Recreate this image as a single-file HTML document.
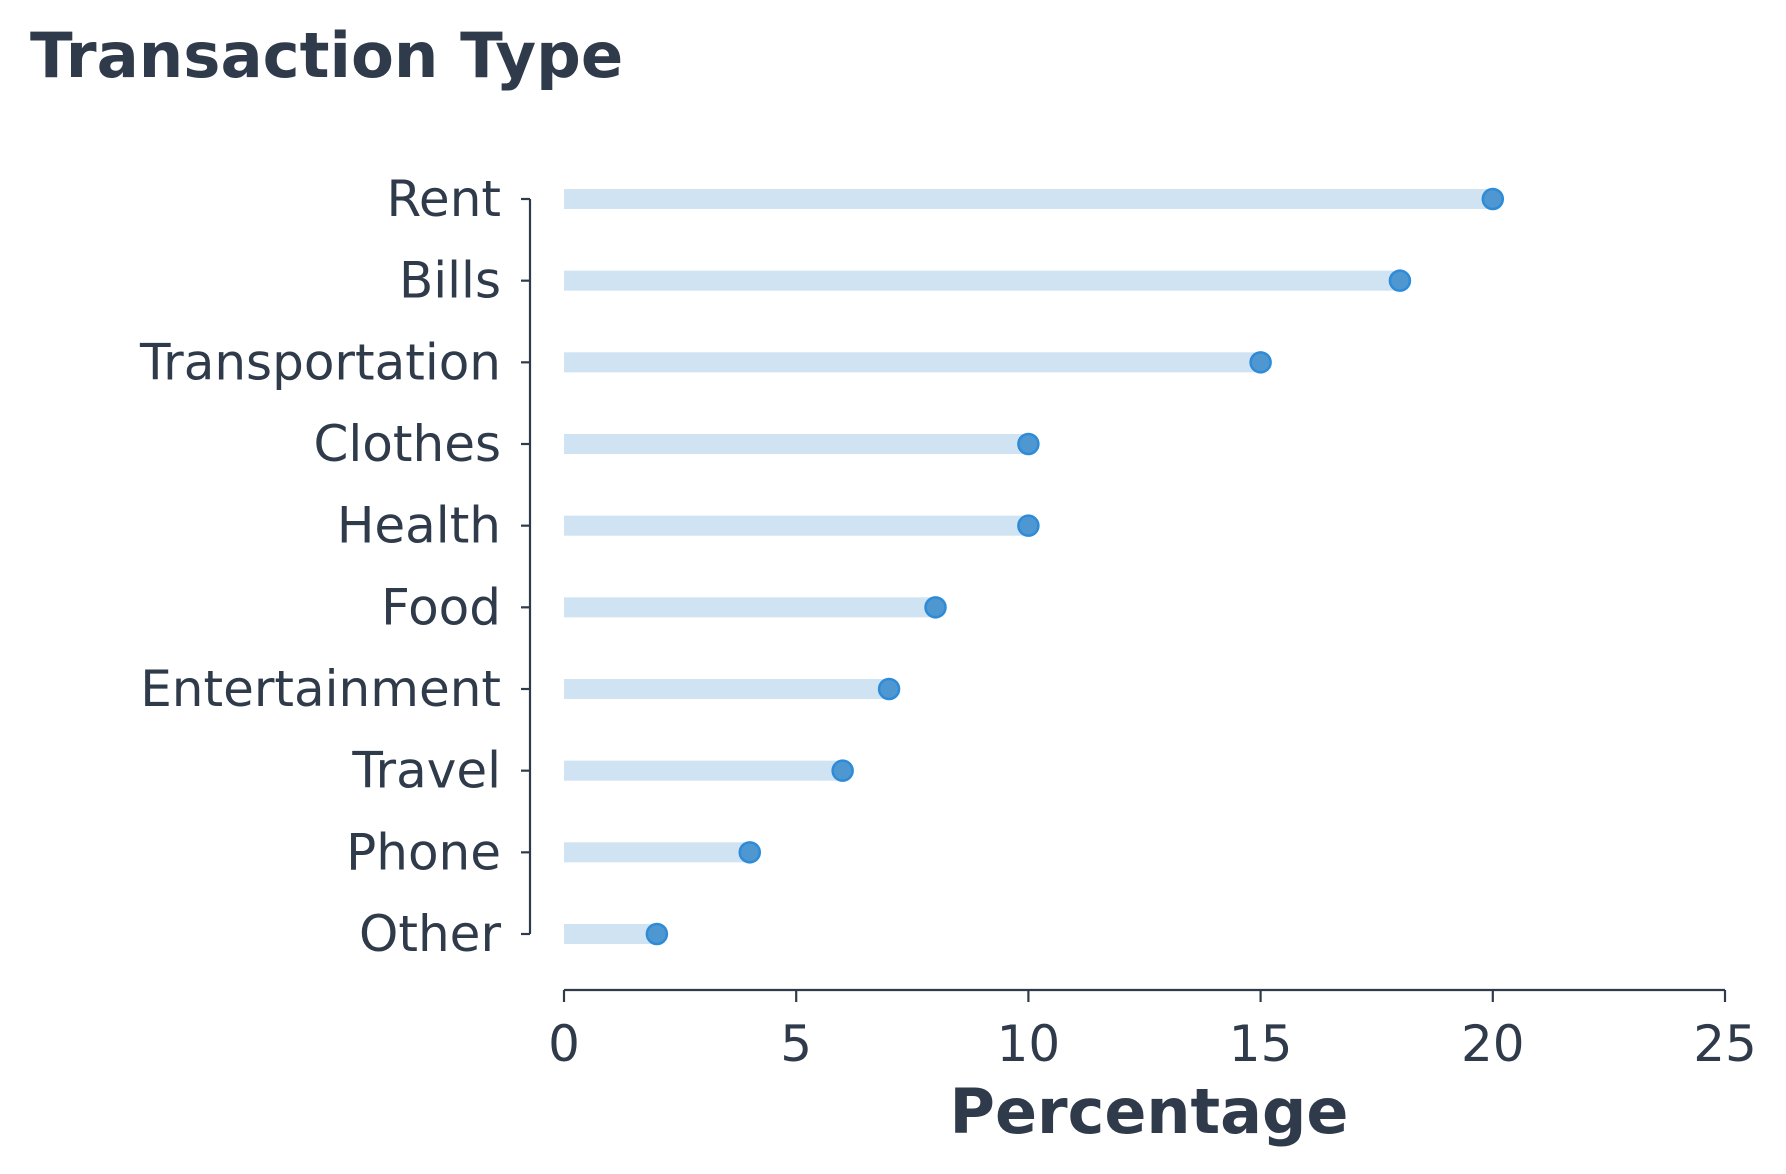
<!DOCTYPE html>
<html><head><meta charset="utf-8"><style>
body{margin:0;background:#fff}
svg{display:block;font-family:"DejaVu Sans","Liberation Sans",sans-serif}
</style></head><body>
<svg id="chart" width="1786" height="1174" viewBox="0 0 1786 1174">
<text x="30" y="77" font-size="62.5" font-weight="bold" fill="#2f3b4a">Transaction Type</text>
<g id="plot"></g>
</svg>
<script>
const categories=["Rent","Bills","Transportation","Clothes","Health","Food","Entertainment","Travel","Phone","Other"];
const values=[20,18,15,10,10,8,7,6,4,2];
const xTicks=[0,5,10,15,20,25];
const NS="http://www.w3.org/2000/svg";
const g=document.getElementById('plot');
const x0=564,x1=1725,xmax=25;
const yTop=199,yBot=934;
const xs=v=>x0+(v/xmax)*(x1-x0);
const ys=i=>yTop+i*(yBot-yTop)/(categories.length-1);
const C="#2f3b4a";
function el(t,a){const e=document.createElementNS(NS,t);for(const k in a)e.setAttribute(k,a[k]);g.appendChild(e);return e;}
let e=el('line',{x1:530,x2:530,y1:yTop,y2:yBot,stroke:C,'stroke-width':2.2});


e=el('line',{x1:x0,x2:x1,y1:990,y2:990,stroke:C,'stroke-width':2.2});


categories.forEach((c,i)=>{
  const y=ys(i);
  let t=el('line',{x1:521,x2:530,y1:y,y2:y,stroke:C,'stroke-width':2.2});
  
  
  let l=el('text',{x:501,y:y+17,'text-anchor':'end','font-size':50,fill:C});
  l.textContent=c;
  
  
  let b=el('rect',{x:x0,y:y-10,width:xs(values[i])-x0,height:20,fill:'#cfe3f3'});
  
  
  let d=el('circle',{cx:xs(values[i]),cy:y,r:10,fill:'#4f97d0',stroke:'#2e8bd8','stroke-width':2.5});
  
  
});
xTicks.forEach(v=>{
  const x=xs(v);
  let t=el('line',{x1:x,x2:x,y1:990,y2:1002,stroke:C,'stroke-width':2.2});
  
  
  let l=el('text',{x:x,y:1061,'text-anchor':'middle','font-size':50,fill:C});
  l.textContent=v;
  
  
});
let xl=el('text',{x:1149,y:1133,'text-anchor':'middle','font-size':62,'font-weight':'bold',fill:C});
xl.textContent='Percentage';


</script>
</body></html>
